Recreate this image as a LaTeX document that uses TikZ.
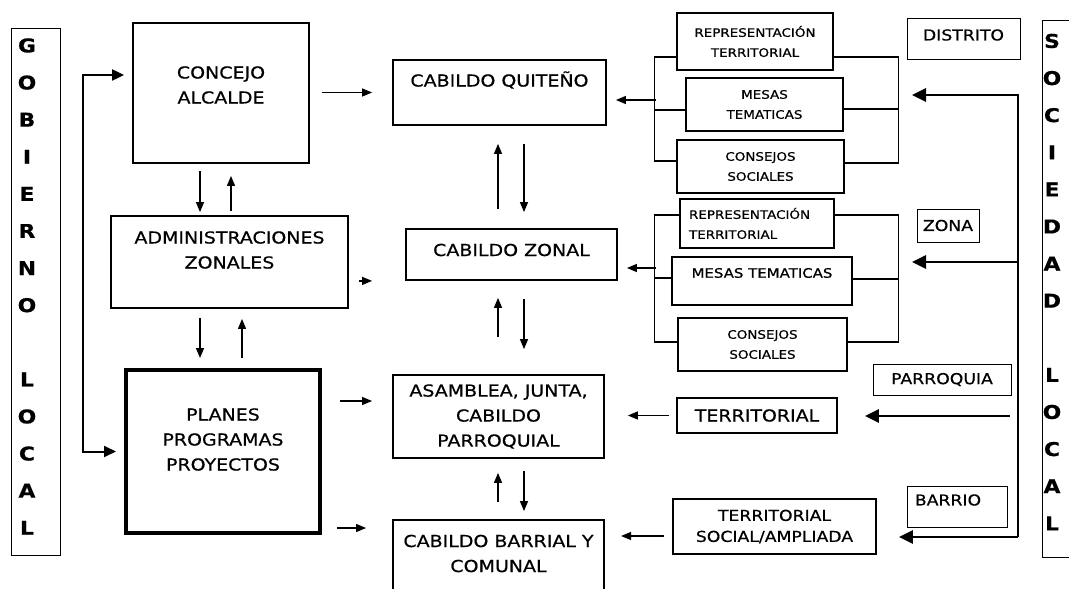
\documentclass[tikz,border=0pt]{standalone}
\usepackage{fontspec}
\setmainfont{DejaVu Sans}[FakeStretch=1.15,FakeBold=0.6]
\usetikzlibrary{arrows.meta}

\newcommand\mainfnt{\fontsize{16.5}{25}\selectfont}
\newcommand\subfnt{\fontsize{11.7}{20}\selectfont}
\newcommand\tagfnt{\fontsize{15}{21}\selectfont}
\newcommand\vertfnt{\fontsize{19}{37.1}\selectfont\bfseries}

\begin{document}
\begin{tikzpicture}[x=1pt,y=-1pt,
  mainbox/.style={draw,line width=1.8pt,inner sep=0pt,align=center,font=\mainfnt},
  subbox/.style={draw,line width=2.4pt,inner sep=0pt,align=center,font=\subfnt},
  tagbox/.style={draw,line width=1pt,inner sep=0pt,align=center,font=\tagfnt},
  frame/.style={draw,line width=1pt,inner sep=0pt},
  boxlabel/.style={font=\mainfnt,align=center},
  brk/.style={line width=1.2pt},
  arr/.style={line width=1.3pt,-{Triangle[length=10pt,width=8pt]}},
  looparr/.style={line width=2pt,{Triangle[length=12pt,width=11pt]}-{Triangle[length=12pt,width=11pt]}},
  bigarr/.style={line width=2.6pt,-{Triangle[length=14pt,width=13pt]}}]

  \useasboundingbox (0,0) rectangle (1069,589);

  % side frames
  \node[frame,minimum width=49pt,minimum height=527pt,
    label={[font=\vertfnt,align=center,xshift=-8.5pt,yshift=5pt]center:G\\O\\B\\I\\E\\R\\N\\O\\\mbox{}\\L\\O\\C\\A\\L}]
    (gobierno) at (35.5,291.5) {};
  \node[frame,minimum width=43pt,minimum height=537pt,
    label={[font=\vertfnt,align=center,xshift=-11.5pt,yshift=6.5pt]center:S\\O\\C\\I\\E\\D\\A\\D\\\mbox{}\\L\\O\\C\\A\\L}]
    (sociedad) at (1063.5,288.5) {};

  % government side
  \node[mainbox,minimum width=176pt,minimum height=140pt,
    label={[boxlabel,yshift=8pt]center:CONCEJO\\ALCALDE}] (concejo) at (221,93) {};
  \node[mainbox,minimum width=237pt,minimum height=92pt,
    label={[boxlabel,yshift=12pt]center:ADMINISTRACIONES\\ZONALES}] (admin) at (229.5,262) {};
  \node[mainbox,line width=4pt,minimum width=194pt,minimum height=163pt,
    label={[boxlabel,yshift=12pt]center:PLANES\\PROGRAMAS\\PROYECTOS}] (planes) at (223,451.5) {};

  % cabildos
  \node[mainbox,minimum width=213pt,minimum height=65pt,
    label={[boxlabel,yshift=12.5pt]center:CABILDO QUITEÑO}] (quiteno) at (499.5,92.5) {};
  \node[mainbox,minimum width=211pt,minimum height=51pt,
    label={[boxlabel,yshift=4.5pt]center:CABILDO ZONAL}] (zonal) at (511.5,254.5) {};
  \node[mainbox,minimum width=211pt,minimum height=83pt] (asamblea) at (498.5,416.5)
    {ASAMBLEA, JUNTA,\\CABILDO\\PARROQUIAL};
  \node[mainbox,minimum width=211pt,minimum height=80pt,
    label={[boxlabel,yshift=6.5pt]center:CABILDO BARRIAL Y\\COMUNAL}] (barrial) at (498.5,560) {};

  % distrito group
  \node[subbox,minimum width=156pt,minimum height=57pt] (rep1) at (755,41.5) {REPRESENTACIÓN\\TERRITORIAL};
  \node[subbox,minimum width=157pt,minimum height=53pt] (mesas1) at (764.5,104.5) {MESAS\\TEMATICAS};
  \node[subbox,minimum width=167pt,minimum height=53pt] (consejos1) at (760.5,166.5) {CONSEJOS\\SOCIALES};

  % zona group
  \node[subbox,text width=136pt,inner xsep=9pt,align=left,minimum height=49pt] (rep2) at (757,223.5)
    {REPRESENTACIÓN\\TERRITORIAL};
  \node[subbox,minimum width=180pt,minimum height=48pt,
    label={[font=\fontsize{13}{20}\selectfont,yshift=8pt]center:MESAS TEMATICAS}] (mesas2) at (762,281) {};
  \node[subbox,minimum width=169pt,minimum height=53pt] (consejos2) at (762.5,344.5) {CONSEJOS\\SOCIALES};

  % parroquia and barrio
  \node[mainbox,minimum width=160pt,minimum height=35pt] (territorial) at (757,415.5) {TERRITORIAL};
  \node[mainbox,font=\tagfnt,minimum width=203pt,minimum height=55pt] (tsa) at (774.5,526.5)
    {TERRITORIAL\\SOCIAL/AMPLIADA};

  % level tags
  \node[tagbox,minimum width=113pt,minimum height=41pt,
    label={[font=\tagfnt,yshift=3.5pt]center:DISTRITO}] (distrito) at (963.5,38.5) {};
  \node[tagbox,minimum width=62pt,minimum height=33pt] (zona) at (948,225.5) {ZONA};
  \node[tagbox,minimum width=138pt,minimum height=31pt] (parroquia) at (942,379.5) {PARROQUIA};
  \node[tagbox,minimum width=100pt,minimum height=41pt,
    label={[font=\tagfnt,xshift=-9pt,yshift=6.5pt]center:BARRIO}] (barrio) at (957,506.5) {};

  % loop on the left
  \draw[looparr] ([shift={(-8,-18)}]concejo.west) -| ([xshift=-41pt]planes.west) -- ([xshift=-8pt]planes.west);

  % up and down arrows
  \draw[arr,shorten <=7pt,shorten >=3pt] ([xshift=-21pt]concejo.south) -- ([xshift=-21pt]concejo.south |- admin.north);
  \draw[arr,shorten <=4pt,shorten >=12pt] ([xshift=10pt]concejo.south |- admin.north) -- ([xshift=10pt]concejo.south);
  \draw[arr,shorten <=9pt,shorten >=10pt] ([xshift=-29.5pt]admin.south) -- ([xshift=-29.5pt]admin.south |- planes.north);
  \draw[arr,shorten <=10pt,shorten >=10pt] ([xshift=12.5pt]admin.south |- planes.north) -- ([xshift=12.5pt]admin.south);

  \draw[arr,shorten <=19pt,shorten >=18pt] ([xshift=-1.5pt]quiteno.south |- zonal.north) -- ([xshift=-1.5pt]quiteno.south);
  \draw[arr,shorten <=18pt,shorten >=16pt] ([xshift=24.5pt]quiteno.south) -- ([xshift=24.5pt]quiteno.south |- zonal.north);
  \draw[arr,shorten <=37pt,shorten >=17pt] ([xshift=-0.5pt]asamblea.north) -- ([xshift=-0.5pt]asamblea.north |- zonal.south);
  \draw[arr,shorten <=18pt,shorten >=25pt] ([xshift=25.5pt]asamblea.north |- zonal.south) -- ([xshift=25.5pt]asamblea.north);
  \draw[arr,shorten <=17pt,shorten >=14pt] ([xshift=-0.5pt]barrial.north) -- ([xshift=-0.5pt]barrial.north |- asamblea.south);
  \draw[arr,shorten <=12pt,shorten >=8pt] ([xshift=25.5pt]barrial.north |- asamblea.south) -- ([xshift=25.5pt]barrial.north);

  % left to centre
  \draw[arr,shorten <=12pt,shorten >=20pt] (concejo.east |- quiteno.west) -- (quiteno.west);
  \draw[arr,shorten <=10pt,shorten >=33pt] (admin.east |- zonal.south west) -- (zonal.south west);
  \draw[arr] ([shift={(18,-50.5)}]planes.east) -- ([shift={(-20,-15.5)}]asamblea.west);
  \draw[arr] ([shift={(15,76.5)}]planes.east) -- ([shift={(-26,-32)}]barrial.west);

  % brackets, distrito
  \coordinate (dleft) at (656,100);
  \draw[brk] ([yshift=-15.5pt]rep1.west) -- ++(-21,0) |- ([yshift=5.5pt]consejos1.west);
  \draw[brk] ([yshift=-5.5pt]mesas1.west) -- ++(-30.5,0);
  \draw[brk] ([yshift=-15.5pt]rep1.east) -- ++(64,0) |- ([yshift=3.5pt]consejos1.east);
  \draw[brk] ([yshift=-4.5pt]mesas1.east) -- ++(54,0);
  \draw[arr,shorten >=9pt] (dleft) -- (quiteno.east |- dleft);

  % brackets, zona
  \coordinate (zleft) at (656,268);
  \draw[brk] ([yshift=8.5pt]rep2.west) -- ++(-24,0) |- ([yshift=2.5pt]consejos2.west);
  \draw[brk] ([yshift=3pt]mesas2.west) -- ++(-16,0);
  \draw[brk] ([yshift=8.5pt]rep2.east) -- ++(63,0) |- ([yshift=2.5pt]consejos2.east);
  \draw[brk] ([yshift=2pt]mesas2.east) -- ++(45,0);
  \draw[arr,shorten >=9pt] (zleft) -- (zonal.east |- zleft);

  % parroquia and barrio into the centre
  \draw[arr,shorten <=7pt,shorten >=23pt] (territorial.west) -- (asamblea.east |- territorial.west);
  \draw[arr,shorten <=8pt] ([yshift=-9.5pt]tsa.west) -- ++(-51,0);

  % society line on the right
  \coordinate (stop) at (1018,95);
  \coordinate (szona) at (1018,262);
  \coordinate (sparr) at (1010,416);
  \coordinate (sbot) at (1018,537);
  \draw[bigarr] (sbot) -- (stop) -- ++(-106,0);
  \draw[bigarr] (szona) -- ++(-106,0);
  \draw[bigarr,shorten >=27pt] (sparr) -- (territorial.east |- sparr);
  \draw[bigarr,shorten >=22pt] (sbot) -- (tsa.east |- sbot);

\end{tikzpicture}
\end{document}
